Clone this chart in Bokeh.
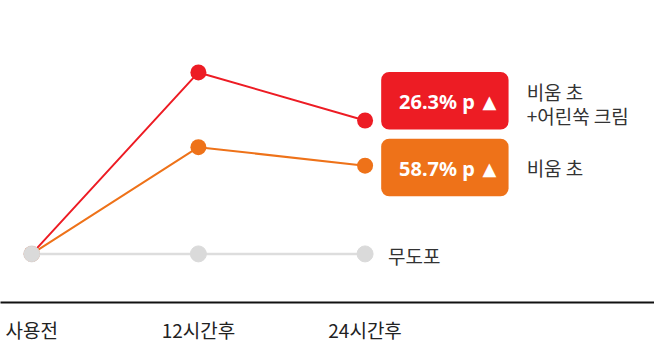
from bokeh.plotting import figure
from bokeh.models import Range1d, FixedTicker, BoxAnnotation, Label, ColumnDataSource
from bokeh.embed import file_html
from bokeh.resources import INLINE

# ---- data ----
categories = ["사용전", "12시간후", "24시간후"]
x_idx = [0, 1, 2]
red_values = [0, 100, 73.5]
orange_values = [0, 58.8, 48.6]
gray_values = [0, 0, 0]
red_name = ["비움 초", "+어린쑥 크림"]
orange_name = "비움 초"
gray_name = "무도포"
red_badge = 26.3
orange_badge = 58.7

RED = "#ED1C24"
ORANGE = "#EE7219"
GRAY = "#DADADA"
GRAY_LINE = "#DDDDDD"
TXT = "#333333"
KFONT = "Noto Sans CJK KR"

W, H = 654, 345

# layout helpers (reference pixel -> data)
def dx(px):
    return (px - 32) / 170.75

def dy(py):
    return (266 - py) / 1.905

p = figure(width=W, height=H, output_backend="svg", toolbar_location=None,
           x_range=Range1d(dx(0), dx(670)), y_range=Range1d(dy(317), dy(0)),
           min_border_left=0, min_border_right=0, min_border_top=0, min_border_bottom=0)
p.outline_line_color = None
p.grid.visible = False
p.yaxis.visible = False
p.background_fill_color = "white"
p.border_fill_color = "white"

src = ColumnDataSource(dict(x=x_idx, red=red_values, orange=orange_values, gray=gray_values))

p.line("x", "red", source=src, line_color=RED, line_width=2)
p.line("x", "orange", source=src, line_color=ORANGE, line_width=2)
p.line("x", "gray", source=src, line_color=GRAY_LINE, line_width=2.5)
p.scatter("x", "red", source=src, size=16, fill_color=RED, line_color=None)
p.scatter("x", "orange", source=src, size=16, fill_color=ORANGE, line_color=None)
p.scatter("x", "gray", source=src, size=16, fill_color=GRAY, line_color=GRAY, line_width=1)

# x axis
ax = p.xaxis[0]
ax.ticker = FixedTicker(ticks=x_idx)
ax.major_label_overrides = {i: c for i, c in zip(x_idx, categories)}
ax.axis_line_color = "#111111"
ax.axis_line_width = 2
ax.major_tick_line_color = None
ax.major_tick_out = 0
ax.major_tick_in = 0
ax.minor_tick_line_color = None
ax.minor_tick_out = 0
ax.major_label_standoff = 13
ax.major_label_text_font = KFONT
ax.major_label_text_font_size = "19px"
ax.major_label_text_color = "#222222"

# badges
p.add_layout(BoxAnnotation(left=dx(390), right=dx(520.5), top=dy(75), bottom=dy(135.5),
                           fill_color=RED, fill_alpha=1, line_color=None, border_radius=8))
p.add_layout(BoxAnnotation(left=dx(390), right=dx(520.5), top=dy(145), bottom=dy(205.5),
                           fill_color=ORANGE, fill_alpha=1, line_color=None, border_radius=8))

for val, ypx in [(red_badge, 106), (orange_badge, 176)]:
    p.add_layout(Label(x=dx(486), y=dy(ypx), text=f"{val}% p", text_align="right",
                       text_baseline="middle", text_font="Noto Sans", text_font_style="bold",
                       text_font_size="20px", text_color="white"))
    p.add_layout(Label(x=dx(501), y=dy(ypx), text="▲", text_align="center",
                       text_baseline="middle", text_font="DejaVu Sans",
                       text_font_size="18px", text_color="white"))

# series names
p.add_layout(Label(x=dx(539), y=dy(95), text=red_name[0], text_baseline="middle",
                   text_font=KFONT, text_font_size="19px", text_color=TXT))
p.add_layout(Label(x=dx(539), y=dy(121), text=red_name[1], text_baseline="middle",
                   text_font=KFONT, text_font_size="19px", text_color=TXT))
p.add_layout(Label(x=dx(539), y=dy(175), text=orange_name, text_baseline="middle",
                   text_font=KFONT, text_font_size="19px", text_color=TXT))
p.add_layout(Label(x=dx(397), y=dy(268), text=gray_name, text_baseline="middle",
                   text_font=KFONT, text_font_size="19px", text_color=TXT))

open("out.html", "w").write(file_html(p, INLINE))
